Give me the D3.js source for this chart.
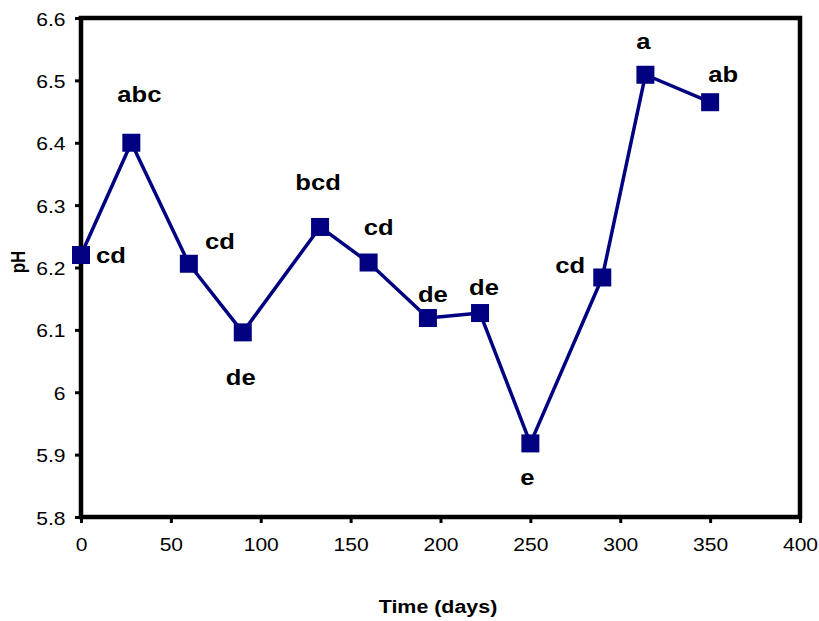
<!DOCTYPE html>
<html>
<head>
<meta charset="utf-8">
<script src="https://cdn.jsdelivr.net/npm/d3@7"></script>
<style>
  html, body { margin: 0; padding: 0; background: #ffffff; }
  svg { display: block; font-family: "Liberation Sans", Arial, sans-serif; }
</style>
</head>
<body>
<svg id="chart" width="819" height="621"></svg>
<script>
// Sampling days and mean pH, with significance letters
const days = [0, 28, 60, 90, 133, 160, 193, 222, 250, 290, 314, 350];
const ph = [6.22, 6.40, 6.206, 6.096, 6.265, 6.208, 6.119, 6.127, 5.918, 6.184, 6.509, 6.465];
const letters = ["cd", "abc", "cd", "de", "bcd", "cd", "de", "de", "e", "cd", "a", "ab"];
const xTicks = [0, 50, 100, 150, 200, 250, 300, 350, 400];
const yTicks = [5.8, 5.9, 6, 6.1, 6.2, 6.3, 6.4, 6.5, 6.6];

// Letter placement relative to each marker: [dx to text centre, dy to baseline]
const letterOffsets = [[30, 8], [8, -41], [31, -15], [-2, 53], [-2, -37], [10, -28],
                       [5, -16], [4, -18], [-3, 42], [-32, -4], [-2, -26], [13, -20]];

const svg = d3.select("#chart");
const plotL = 81, plotR = 800, plotT = 18, plotB = 517;
const stretch = 1.19; // wide lettering

const x = d3.scaleLinear().domain([0, 400]).range([plotL, plotR]);
const y = d3.scaleLinear().domain([5.8, 6.6]).range([plotB, plotT]);

const navy = "#000080";

// Axes with outward ticks
const xAxis = svg.append("g")
  .attr("transform", `translate(0,${plotB})`)
  .call(d3.axisBottom(x).tickValues(xTicks).tickFormat(d3.format("d")).tickSize(6).tickPadding(15));
const yAxis = svg.append("g")
  .attr("transform", `translate(${plotL},0)`)
  .call(d3.axisLeft(y).tickValues(yTicks).tickFormat(d => String(d)).tickSize(6).tickPadding(10));

[xAxis, yAxis].forEach(g => {
  g.select(".domain").remove();
  g.selectAll(".tick line").attr("stroke", "#000").attr("stroke-width", 3);
  g.selectAll(".tick text").attr("fill", "#000").style("font-size", "17.7px")
    .style("font-family", "'Liberation Sans', Arial, sans-serif");
});
xAxis.selectAll(".tick text")
  .attr("transform", `scale(${stretch},1)`);
yAxis.selectAll(".tick text")
  .attr("x", 0)
  .attr("dy", "0.4em")
  .attr("transform", `translate(-15.5,0) scale(${stretch},1)`);

// Plot frame
svg.append("rect")
  .attr("x", plotL).attr("y", plotT)
  .attr("width", plotR - plotL).attr("height", plotB - plotT)
  .attr("fill", "none").attr("stroke", "#000").attr("stroke-width", 4.5);

// Line series
const pts = days.map((d, i) => ({ d, v: ph[i], lab: letters[i], off: letterOffsets[i] }));
svg.append("path")
  .datum(pts)
  .attr("fill", "none")
  .attr("stroke", navy)
  .attr("stroke-width", 3.5)
  .attr("stroke-linejoin", "round")
  .attr("d", d3.line().x(p => x(p.d)).y(p => y(p.v)));

// Square markers
const ms = 18;
svg.selectAll("rect.mk").data(pts).enter().append("rect")
  .attr("class", "mk")
  .attr("x", p => x(p.d) - ms / 2)
  .attr("y", p => y(p.v) - ms / 2)
  .attr("width", ms).attr("height", ms)
  .attr("fill", navy);

// Significance letters
svg.selectAll("text.lab").data(pts).enter().append("text")
  .attr("class", "lab")
  .attr("transform", p => `translate(${x(p.d) + p.off[0]},${y(p.v) + p.off[1]}) scale(${stretch},1)`)
  .attr("text-anchor", "middle")
  .style("font-size", "21.5px")
  .style("font-weight", "bold")
  .attr("fill", "#000")
  .text(p => p.lab);

// Axis titles
svg.append("text")
  .attr("transform", `translate(438,613) scale(${stretch},1)`)
  .attr("text-anchor", "middle")
  .style("font-size", "18px").style("font-weight", "bold")
  .text("Time (days)");

svg.append("text")
  .attr("transform", `translate(25,262) rotate(-90) scale(1,${stretch})`)
  .attr("text-anchor", "middle")
  .style("font-size", "17px").style("font-weight", "bold")
  .text("pH");
</script>
</body>
</html>
